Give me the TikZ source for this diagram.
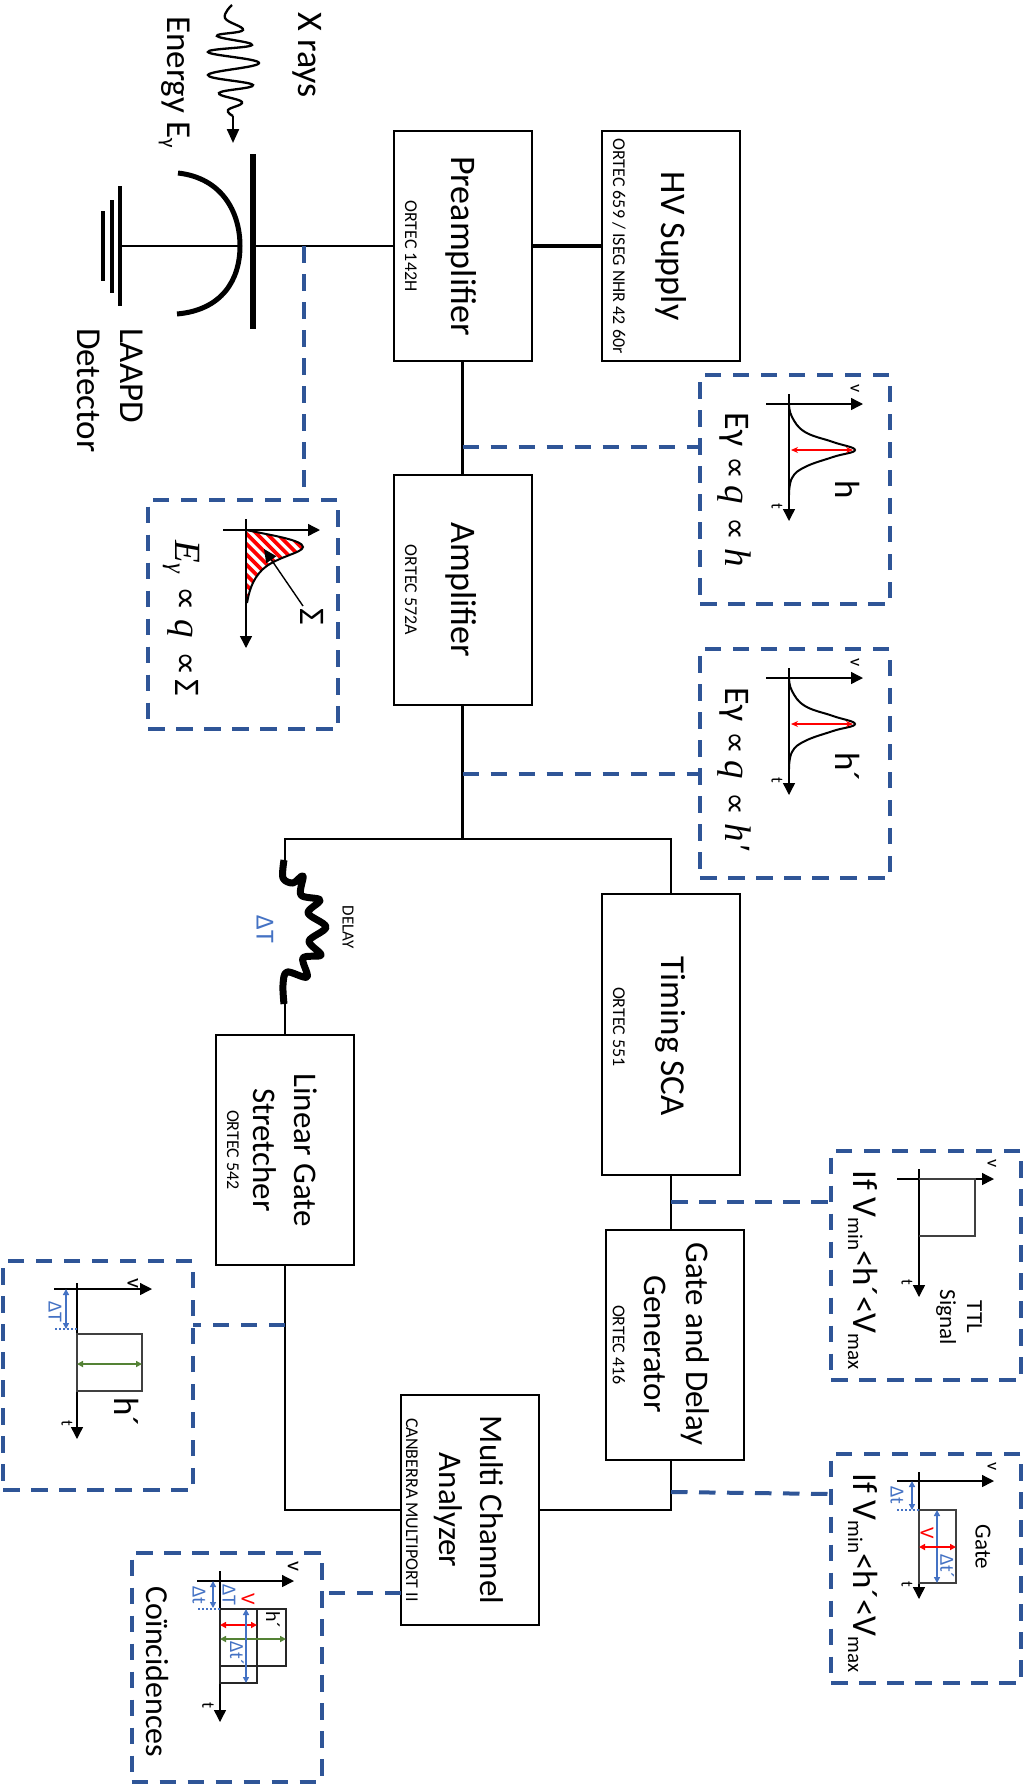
\documentclass[tikz,border=0pt]{standalone}
\usepackage{fontspec}
\setmainfont{Carlito}
\newfontfamily\serfont{Liberation Serif}
\newfontfamily\djv{DejaVu Sans}
\usetikzlibrary{arrows.meta}
\definecolor{dbl}{HTML}{2F5597}
\definecolor{lbl}{HTML}{4472C4}
\definecolor{grn}{HTML}{548235}
\newcommand{\Vsub}[2]{V\raisebox{-5pt}{\fontsize{#1}{#1}\selectfont #2}}
\newcommand{\prp}[1]{{\djv\fontsize{#1}{#1}\selectfont ∝}}
\newcommand{\itl}[1]{{\serfont\itshape\fontsize{37}{37}\selectfont #1}}
\tikzset{
  bbox/.style={draw=black,line width=2pt,minimum width=138pt,minimum height=230pt,inner sep=0pt,outer sep=0pt},
  dbox/.style={draw=dbl,line width=4pt,dash pattern=on 16.5pt off 11.5pt,minimum width=190pt,minimum height=229pt,inner sep=0pt,outer sep=0pt},
  wire/.style={draw=black,line width=2.2pt},
  dwire/.style={draw=dbl,line width=4pt,dash pattern=on 16.5pt off 11.5pt},
  ax/.style={draw=black,line width=1.4pt,-{Triangle[length=12pt,width=12pt]}},
  shp/.style={draw=black!75,line width=1.5pt},
  curvy/.style={draw=black,line width=2pt},
  dbl arrow/.style={line width=1.6pt,{Triangle[length=6pt,width=6pt]}-{Triangle[length=6pt,width=6pt]}},
  thin arrow/.style={draw=red,line width=1.1pt,{Stealth[length=7pt,width=6pt]}-{Stealth[length=7pt,width=6pt]}},
  dots/.style={draw=lbl,line width=1.8pt,dash pattern=on 2pt off 2pt},
  txt/.style={rotate=-90,inner sep=0pt,align=center,font=\fontsize{#1pt}{1.17\dimexpr#1pt\relax}\selectfont},
}
\begin{document}
\begin{tikzpicture}[x=1pt,y=-1pt]
\useasboundingbox (0,0) rectangle (1034,1786);
\fill[white] (0,0) rectangle (1034,1786);

% main boxes
\node[bbox] (preamp) at (462.5,246) {};
\node[bbox] (hv) at (671,246) {};
\node[bbox] (amp) at (462.5,590) {};
\node[bbox,minimum height=281pt] (timing) at (671,1034.5) {};
\node[bbox] (gate) at (675,1345) {};
\node[bbox] (linear) at (285,1150) {};
\node[bbox] (mca) at (470,1510) {};

\node[txt=36] (tpre) at (461,246) {Preamplifier};
\node[txt=18] (tpre2) at (411,246) {ORTEC 142H};
\node[txt=36] (thv) at (671,246) {HV Supply};
\node[txt=18] (thv2) at (619,246) {ORTEC 659 / ISEG NHR 42 60r};
\node[txt=36] (tamp) at (461,590) {Amplifier};
\node[txt=18] (tamp2) at (411,590) {ORTEC 572A};
\node[txt=35] (ttim) at (671,1036) {Timing SCA};
\node[txt=18] (ttim2) at (619,1027) {ORTEC 551};
\node[txt=33] (tgat) at (677,1344) {Gate and Delay\\[3pt]Generator};
\node[txt=18] (tgat2) at (619,1345) {ORTEC 416};
\node[txt=33] (tlin) at (285,1150) {Linear Gate\\[2pt]Stretcher};
\node[txt=18] (tlin2) at (233,1150) {ORTEC 542};
\node[txt=33] (tmca) at (469,1510) {Multi Channel\\[2pt]Analyzer};
\node[txt=18] (tmca2) at (412,1510) {CANBERRA MULTIPORT II};

% detector
\coordinate (gnd) at (120,246);
\coordinate (arcmid) at (239,246);
\coordinate (plate) at (253,246);
\draw[line width=6.5pt] (253,154) -- (253,329);
\draw[line width=5pt] (178,173) .. controls (222,178) and (240,212) .. (240,246) .. controls (240,280) and (222,310) .. (177,314);
\draw[line width=3.2pt] (120,186) -- (120,306);
\draw[line width=3.2pt] (112,200) -- (112,293);
\draw[line width=3.2pt] (103,211) -- (103,281);
\draw[wire] (gnd) -- (arcmid);
\draw[wire] (plate) -- (preamp.west);
\draw[draw=black,line width=3.5pt] (preamp.east) -- (hv.west);

% x rays
\coordinate (xtip) at (233,143);
\draw[line width=2.3pt] plot[smooth,tension=0.7] coordinates {(232,5) (225,18) (243,30) (217,36) (252,45) (208,52) (259,63) (208,75) (253,85) (219,93) (242,102) (228,110) (233,116)};
\draw[line width=2.3pt,-{Triangle[length=14pt,width=12pt]}] (233,116) -- (xtip);
\node[txt=36] (xr) at (307,55) {X rays};
\node[txt=35,anchor=base] (en) at (167,82) {Energy E\raisebox{-5pt}{\fontsize{21}{21}\selectfont γ}};
\node[txt=35,anchor=west,align=left] (laapd) at (110,328) {LAAPD\\[2pt]Detector};

% wires
\coordinate (amj) at (462.5,839);
\coordinate (lj) at (285,839);
\coordinate (rj) at (671,839);
\coordinate (dtop) at (285,863);
\coordinate (dbot) at (285,1002);
\coordinate (mj) at (285,1510);
\coordinate (gj) at (671,1510);
\draw[wire] (preamp.south) -- (amp.north);
\draw[wire,line width=2.6pt] (amp.south) -- (amj);
\draw[wire] (dtop) -- (lj) -- (rj) -- (timing.north);
\draw[line width=7pt,line join=round] plot[smooth,tension=0.55] coordinates {(284,860) (283,878) (293,883) (303,876) (301,895) (320,900) (308,913) (326,927) (309,941) (321,955) (303,958) (307,977) (287,972) (283,985) (284,1004)};
\draw[wire] (dbot) -- (linear.north);
\node[txt=26,text=lbl] (dT) at (265,929) {ΔT};
\node[txt=17] (dly) at (348,927) {DELAY};
\draw[wire] (timing.south) -- (timing.south |- gate.north);
\draw[wire] (gate.south -| gj) -- (gj) -- (mca.east);
\draw[wire] (linear.south) -- (mj) -- (mca.west);

% dashed boxes
\node[dbox] (hb) at (795,489.5) {};
\node[dbox] (hpb) at (795,763.5) {};
\node[dbox] (sb) at (243,614) {};
\node[dbox] (tb) at (926,1265) {};
\node[dbox] (gb) at (926,1568) {};
\node[dbox] (lb) at (98,1375.5) {};
\node[dbox] (cb) at (226.5,1667) {};

% dashed connectors
\coordinate (c1) at (304,246);
\coordinate (c2) at (462.5,447);
\coordinate (c3) at (462.5,774);
\coordinate (c4) at (671,1202);
\coordinate (c5) at (671,1492);
\coordinate (c5b) at (831,1494);
\coordinate (c6) at (285,1325);
\coordinate (c7) at (401,1593);
\draw[dwire] (c1) -- (c1 |- sb.north);
\draw[dwire] (c2) -- (c2 -| hb.west);
\draw[dwire] (c3) -- (c3 -| hpb.west);
\draw[dwire] (c4) -- (c4 -| tb.west);
\draw[dwire] (c5) -- (c5b);
\draw[dwire] (c6) -- (c6 -| lb.east);
\draw[dwire] (c7) -- (c7 -| cb.east);

% sigma box
\begin{scope}
\clip (246,530) .. controls (270,535) and (303,540) .. (303,547) .. controls (303,553) and (275,557) .. (262,570) .. controls (252,580) and (249,592) .. (247,603) -- cycle;
\foreach \k in {0,...,20} {\draw[red,line width=3.7pt] (140+\k*10.3,520) -- ++(100,100);}
\end{scope}
\draw[curvy] (246,530) .. controls (270,535) and (303,540) .. (303,547) .. controls (303,553) and (275,557) .. (262,570) .. controls (252,580) and (249,592) .. (247,603);
\draw[ax] (223,530) -- (320,530);
\draw[ax] (246,519) -- (246,648);
\coordinate (stip) at (264,549);
\node[txt=36] (slab) at (312,617) {Σ};
\draw[line width=1.4pt,-{Triangle[length=13pt,width=12pt]}] (303,606) -- (stip);
\node[txt=36,anchor=base] (sfrm) at (175,618) {\itl{E}\raisebox{-7pt}{\itl{\fontsize{25}{25}\selectfont γ}}\hspace{14pt}\prp{34}\hspace{8pt}\itl{q}\hspace{14pt}\prp{34}\hspace{3pt}Σ};

% h box
\draw[ax] (766,404) -- (863,404);
\draw[ax] (789,394) -- (789,521);
\draw[curvy] plot[smooth,tension=0.7] coordinates {(789,404) (792,417) (805,432) (833,442) (855,450) (833,457) (805,467) (792,478) (789,495)};
\draw[thin arrow] (791,450) -- (853,450);
\node[txt=18] (hv1) at (855,389) {v};
\node[txt=17] (ht1) at (777,506) {t};
\node[txt=35] (hl1) at (848,490) {h};
\node[txt=36,anchor=base] (hf1) at (725,490) {Eγ\hspace{10pt}\prp{32}\hspace{6pt}\itl{q}\hspace{14pt}\prp{32}\hspace{8pt}\itl{h}};

% h' box
\draw[ax] (766,678) -- (863,678);
\draw[ax] (789,668) -- (789,795);
\draw[curvy] plot[smooth,tension=0.7] coordinates {(789,678) (792,691) (805,706) (833,716) (855,724) (833,731) (805,741) (792,752) (789,769)};
\draw[thin arrow] (791,724) -- (853,724);
\node[txt=18] (hv2) at (855,663) {v};
\node[txt=17] (ht2) at (777,780) {t};
\node[txt=35] (hl2) at (848,767) {h´};
\node[txt=36,anchor=base] (hf2) at (725,769) {Eγ\hspace{10pt}\prp{32}\hspace{6pt}\itl{q}\hspace{14pt}\prp{32}\hspace{8pt}\itl{h′}};

% TTL box
\draw[ax] (897,1179) -- (994,1179);
\draw[ax] (919,1169) -- (919,1297);
\draw[shp] (919,1179) -- (975,1179) -- (975,1236) -- (919,1236);
\node[txt=18] (tv) at (992,1164) {v};
\node[txt=17] (tt) at (907,1282) {t};
\node[txt=23] (tsig) at (959,1317) {TTL\\Signal};
\node[txt=35,anchor=base] (tif) at (853,1270) {If \Vsub{21}{min}<h´<\Vsub{21}{max}};

% gate box
\draw[ax] (897,1481) -- (994,1481);
\draw[ax] (919,1472) -- (919,1599);
\draw[shp] (919,1510) rectangle (956,1583);
\draw[dots] (897,1510) -- (919,1510);
\draw[dbl arrow,draw=lbl,fill=lbl] (912,1481) -- (912,1510);
\draw[dbl arrow,draw=lbl,fill=lbl] (937,1510) -- (937,1583);
\draw[dbl arrow,draw=red,fill=red] (919,1547) -- (956,1547);
\node[txt=18] (gv) at (992,1467) {v};
\node[txt=17] (gt) at (907,1584) {t};
\node[txt=20,text=lbl] (gdt) at (897,1495) {Δt};
\node[txt=20,text=lbl] (gdt2) at (947,1566) {Δt´};
\node[txt=20,text=red] (gV) at (927,1533) {V};
\node[txt=23] (ggate) at (983,1547) {Gate};
\node[txt=35,anchor=base] (gif) at (853,1573) {If \Vsub{21}{min}<h´<\Vsub{21}{max}};

% left h' box
\draw[ax] (54,1289) -- (152,1289);
\draw[ax] (77,1283) -- (77,1439);
\draw[shp] (77,1334) rectangle (142,1391);
\draw[dots] (55,1329) -- (77,1329);
\draw[dbl arrow,draw=lbl,fill=lbl] (66,1289) -- (66,1329);
\draw[dbl arrow,draw=grn,fill=grn] (77,1364) -- (142,1364);
\node[txt=20,text=lbl] (ldt) at (55,1312) {ΔT};
\node[txt=22] (lv) at (133,1283) {v};
\node[txt=17] (lt) at (67,1423) {t};
\node[txt=35] (lh) at (127,1412) {h´};

% coincidences box
\draw[ax] (197,1581) -- (294,1581);
\draw[ax] (220,1571) -- (220,1722);
\draw[draw=black!85,line width=1.5pt] (220,1609) rectangle (257,1683);
\draw[draw=black!85,line width=1.5pt] (220,1609) rectangle (286,1666);
\draw[dots] (198,1609) -- (220,1609);
\draw[dbl arrow,draw=lbl,fill=lbl] (213,1581) -- (213,1608);
\draw[dbl arrow,draw=grn,fill=grn] (220,1639) -- (286,1639);
\draw[dbl arrow,draw=red,fill=red] (220,1625) -- (257,1625);
\draw[dbl arrow,draw=lbl,fill=lbl] (246,1609) -- (246,1683);
\node[txt=20,text=lbl] (cdt) at (199,1595) {Δt};
\node[txt=20,text=lbl] (cdT) at (229,1595) {ΔT};
\node[txt=20,text=red] (cV) at (248,1599) {V};
\node[txt=20] (chp) at (273,1620) {h´};
\node[txt=20,text=lbl] (cdt2) at (237,1653) {Δt´};
\node[txt=22] (cv) at (293,1566) {v};
\node[txt=18] (ct) at (208,1705) {t};
\node[txt=32] (cc) at (157,1672) {Coïncidences};
\end{tikzpicture}
\end{document}
